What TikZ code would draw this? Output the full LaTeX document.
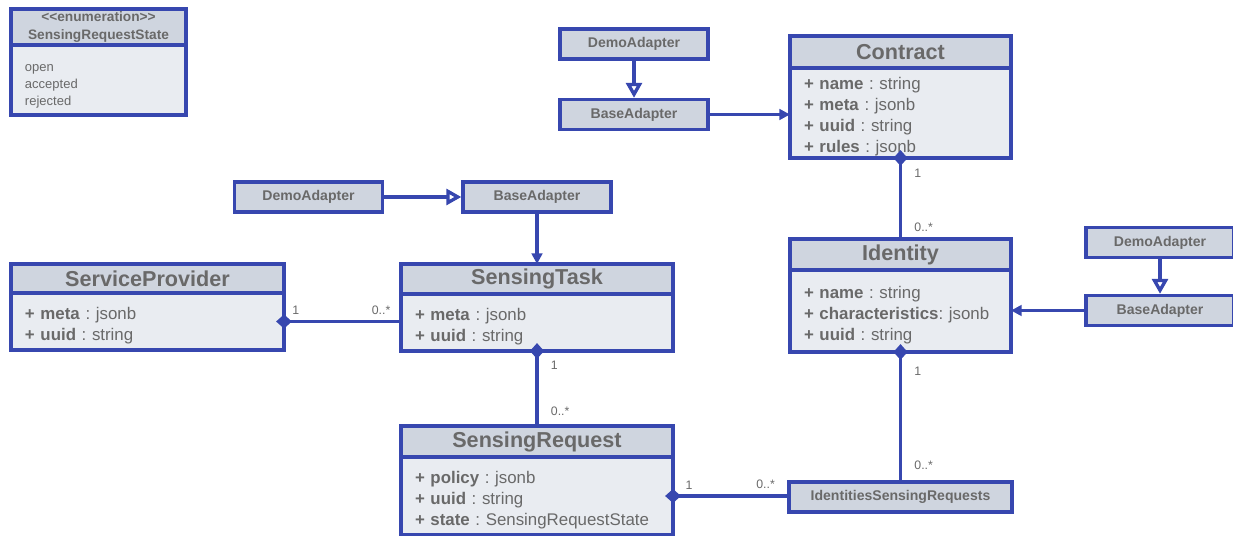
\documentclass[tikz,border=0pt]{standalone}
\usepackage{fontspec}
\setmainfont{Liberation Sans}
\usetikzlibrary{arrows.meta, positioning}
\definecolor{umlblue}{RGB}{55,71,175}
\definecolor{headgray}{RGB}{207,213,223}
\definecolor{bodygray}{RGB}{233,236,241}
\definecolor{labelgray}{RGB}{105,105,105}

\tikzset{
  classhead/.style={draw=umlblue, fill=headgray, line width=1.9pt, outer sep=0pt, text=labelgray, font=\fontsize{12.3}{14}\selectfont\bfseries, inner sep=0pt},
  classbody/.style={draw=umlblue, fill=bodygray, line width=1.9pt, outer sep=0pt, text=labelgray, font=\fontsize{9.6}{12}\selectfont, align=left, inner xsep=0.28cm, inner ysep=0pt, execute at begin node={\hyphenpenalty=10000\rule{0pt}{11.5pt}}},
  adapter/.style={draw=umlblue, fill=headgray, line width=1.9pt, text=labelgray, font=\fontsize{8}{9.6}\selectfont\bfseries, minimum width=2.96cm, minimum height=0.6cm, inner sep=0pt},
  mult/.style={text=labelgray, font=\fontsize{7}{8}\selectfont, inner sep=1pt},
  link/.style={draw=umlblue, line width=1.9pt},
  owns/.style={link, {Diamond[length=9pt,width=8pt]}-, shorten <=-4.5pt},
  uses/.style={link, -{Triangle[length=6pt,width=6pt]}},
  extends/.style={link, -{Triangle[open,length=8.5pt,width=9pt]}},
}

\begin{document}
\begin{tikzpicture}
\useasboundingbox (0,0) rectangle (24.66,-10.72);

% Enumeration
\node[classhead, anchor=north, minimum width=3.5cm, minimum height=0.72cm, align=center, font=\fontsize{7.8}{10}\selectfont\bfseries] (enumhead) at (1.97,-0.18) {<\kern0pt<enumeration>\kern0pt>\\SensingRequestState};
\node[classbody, below=0pt of enumhead, text width=2.94cm, minimum height=1.4cm, font=\fontsize{7.4}{9.6}\selectfont] (enumbody) {open\\accepted\\rejected};

% Contract
\node[classhead, anchor=north, minimum width=4.42cm, minimum height=0.64cm] (contracthead) at (18.01,-0.72) {Contract};
\node[classbody, below=0pt of contracthead, text width=3.86cm, minimum height=1.8cm] (contractbody) {\textbf{+~name}~:~string\\\textbf{+~meta}~:~jsonb\\\textbf{+~uuid}~:~string\\\textbf{+~rules}~:~jsonb};

% Identity
\node[classhead, anchor=north, minimum width=4.42cm, minimum height=0.62cm] (identityhead) at (18.01,-4.78) {Identity};
\node[classbody, below=0pt of identityhead, text width=3.86cm, minimum height=1.64cm] (identitybody) {\textbf{+~name}~:~string\\\textbf{+~characteristics}:~jsonb\\\textbf{+~uuid}~:~string};

% ServiceProvider
\node[classhead, anchor=north, minimum width=5.46cm, minimum height=0.58cm] (sphead) at (2.95,-5.28) {ServiceProvider};
\node[classbody, below=0pt of sphead, text width=4.9cm, minimum height=1.14cm] (spbody) {\textbf{+~meta}~:~jsonb\\\textbf{+~uuid}~:~string};

% SensingTask
\node[classhead, anchor=north, minimum width=5.44cm, minimum height=0.6cm] (sthead) at (10.74,-5.28) {SensingTask};
\node[classbody, below=0pt of sthead, text width=4.88cm, minimum height=1.14cm] (stbody) {\textbf{+~meta}~:~jsonb\\\textbf{+~uuid}~:~string};

% SensingRequest
\node[classhead, anchor=north, minimum width=5.44cm, minimum height=0.62cm] (srhead) at (10.74,-8.52) {SensingRequest};
\node[classbody, below=0pt of srhead, text width=4.88cm, minimum height=1.56cm] (srbody) {\textbf{+~policy}~:~jsonb\\\textbf{+~uuid}~:~string\\\textbf{+~state}~:~SensingRequestState};

% Adapters
\node[adapter] (demotop) at (12.68,-0.88) {DemoAdapter};
\node[adapter] (basetop) at (12.68,-2.29) {BaseAdapter};
\node[adapter] (demomid) at (6.17,-3.94) {DemoAdapter};
\node[adapter] (basemid) at (10.74,-3.94) {BaseAdapter};
\node[adapter] (demoright) at (23.2,-4.85) {DemoAdapter};
\node[adapter] (baseright) at (23.2,-6.21) {BaseAdapter};

% Join table
\node[adapter, minimum width=4.46cm] (isr) at (18.01,-9.94) {IdentitiesSensingRequests};

% Connectors
\draw[extends] (demotop) -- (basetop);
\draw[uses] (basetop.east) -- (basetop.east -| contractbody.west);
\draw[extends] (demoright) -- (baseright);
\draw[uses] (baseright.west) -- (baseright.west -| identitybody.east);
\draw[extends] (demomid) -- (basemid);
\draw[uses] (basemid) -- (sthead);

\draw[owns] (contractbody.south) -- (identityhead.north)
  node[mult, pos=0.185, right=6pt] {1}
  node[mult, pos=0.86, right=6pt] {0..*};
\draw[owns] (identitybody.south) -- (isr.north)
  node[mult, pos=0.15, right=6pt] {1}
  node[mult, pos=0.88, right=6pt] {0..*};
\draw[owns] (stbody.south) -- (srhead.north)
  node[mult, pos=0.19, right=6pt] {1}
  node[mult, pos=0.8, right=6pt] {0..*};
\draw[owns] (spbody.east) -- (spbody.east -| stbody.west)
  node[mult, pos=0.1, above=2pt] {1}
  node[mult, pos=0.83, above=2pt] {0..*};
\draw[owns] (srbody.east) -- (srbody.east -| isr.west)
  node[mult, pos=0.14, above=2pt] {1}
  node[mult, pos=0.81, above=2pt] {0..*};
\end{tikzpicture}
\end{document}
